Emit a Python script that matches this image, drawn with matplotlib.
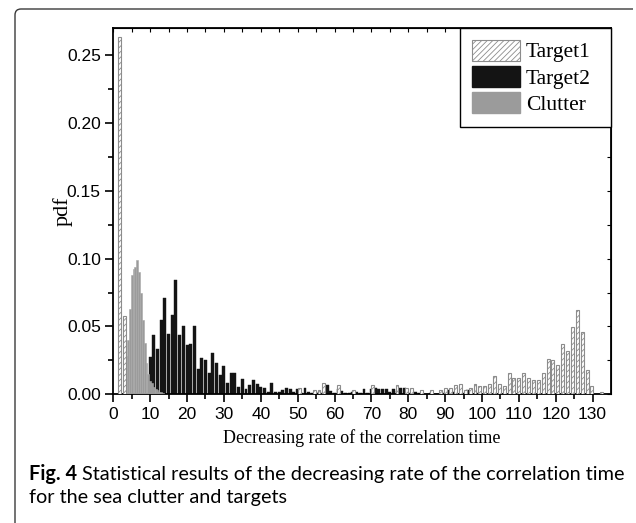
import numpy as np
import matplotlib
matplotlib.use("Agg")
import matplotlib.pyplot as plt
from matplotlib.path import Path
from matplotlib.patches import PathPatch, Patch

# ---------------- data ----------------
# Target1: 100 bins of width ~1.322 starting at ~1.6
t1_start = 1.6
t1_step = 1.322
target1 = [0.263, 0.058, 0, 0, 0, 0, 0, 0, 0, 0,
           0, 0, 0, 0, 0, 0, 0, 0, 0, 0,
           0, 0, 0, 0, 0, 0, 0, 0, 0, 0,
           0, 0, 0, 0, 0, 0, 0, 0.005, 0, 0,
           0.0035, 0.0035, 0.008, 0, 0, 0.0065, 0, 0, 0.0035, 0,
           0, 0, 0.0065, 0, 0, 0, 0, 0.0065, 0, 0.005,
           0.005, 0, 0.0035, 0, 0.0035, 0, 0.0034, 0.005, 0.005, 0.0066,
           0.0078, 0.0034, 0.005, 0.0078, 0.0064, 0.0064, 0.0078, 0.0137, 0.0078, 0.0064,
           0.0157, 0.0123, 0.0123, 0.0157, 0.0123, 0.0108, 0.0108, 0.0157, 0.0262, 0.025,
           0.0218, 0.0373, 0.0316, 0.0495, 0.0623, 0.0456, 0.0176, 0.0064, 0, 0.0015]

# Target2: unit-width bins starting at 10
t2_start = 10
target2 = [0.0272, 0.0434, 0.0336, 0.0551, 0.0713, 0.0444, 0.0581, 0.0846, 0.0436, 0.0502,
           0.0365, 0.037, 0.0502, 0.019, 0.0267, 0.0252, 0.0154, 0.0301, 0.0233, 0.014,
           0.0208, 0.0086, 0.0154, 0.0154, 0.0056, 0.0115, 0.0037, 0.0071, 0.0105, 0.0076,
           0.0056, 0.0047, 0.0017, 0.0086, 0.0017, 0.002, 0.003, 0.0044, 0.0037, 0.0017,
           0.0037, 0.001, 0.0044, 0.0017, 0.001, 0.001, 0.0017, 0.001, 0.0066, 0.0025,
           0.001, 0.0037, 0.0025, 0.001, 0.001, 0.0017, 0.0017, 0.0012, 0.0037, 0.0012,
           0.0037, 0.0047, 0.0037, 0.0037, 0.0037, 0.0017, 0.0037, 0.0025, 0.005, 0.005,
           0.001, 0.0012, 0.0017, 0.001, 0.001, 0.0005, 0.001, 0, 0.0005, 0.001,
           0.002, 0.003, 0.0015, 0.001, 0.0005, 0.001, 0.003, 0.0015, 0.0005, 0.001,
           0, 0.0005, 0, 0, 0, 0, 0.001]

# Clutter: half-unit bins starting at 3.0
cl_start = 3.0
cl_step = 0.5
clutter = [0.012, 0.028, 0.040, 0.063, 0.088, 0.092, 0.094, 0.099, 0.090, 0.075,
           0.055, 0.038, 0.023, 0.015, 0.010, 0.008, 0.0056, 0.004, 0.003, 0.002,
           0.0015, 0.001]

labels = ["Target1", "Target2", "Clutter"]
x_ticks = list(range(0, 131, 10))
y_ticks = [0.00, 0.05, 0.10, 0.15, 0.20, 0.25]

# ---------------- figure ----------------
W, H = 636, 523
fig = plt.figure(figsize=(W / 100, H / 100), dpi=100)
AX_L, AX_R, AX_T, AX_B = 113.3, 611, 28, 394.3
ax = fig.add_axes([AX_L / W, 1 - AX_B / H, (AX_R - AX_L) / W, (AX_B - AX_T) / H])

plt.rcParams['hatch.linewidth'] = 0.6

x2 = t2_start + np.arange(len(target2))
ax.bar(x2, target2, width=0.8, color="#141414", edgecolor="#141414", linewidth=0.3, zorder=2)

xc = cl_start + cl_step * np.arange(len(clutter))
ax.bar(xc, clutter, width=cl_step, color="#9b9b9b", edgecolor="#a8a8a8", linewidth=0.4, zorder=3)

x1 = t1_start + t1_step * np.arange(len(target1))
mask = np.array(target1) > 0
ax.bar(x1[mask], np.array(target1)[mask], width=0.8, color="white", edgecolor="#8c8c8c",
       linewidth=0.8, hatch="//////", zorder=4)

ax.set_xlim(0, 135)
ax.set_ylim(0, 0.27)
ax.set_xticks(x_ticks)
ax.set_xticks(np.arange(5, 135, 10), minor=True)
ax.set_yticks(y_ticks)
ax.set_yticks(np.arange(0.025, 0.27, 0.05), minor=True)
ax.set_xticklabels([str(t) for t in x_ticks])
ax.set_yticklabels([f"{t:.2f}" for t in y_ticks])

for lab in ax.get_xticklabels() + ax.get_yticklabels():
    lab.set_fontfamily("Liberation Sans")
    lab.set_fontsize(12.5)

ax.tick_params(which="major", direction="out", length=6, width=1.2, top=False, right=False, pad=3)
ax.tick_params(which="minor", direction="out", length=3.5, width=1.2, top=False, right=False)
for s in ax.spines.values():
    s.set_linewidth(1.3)

# inner ticks on top and right
axt = ax.secondary_xaxis("top")
axt.set_xticks(x_ticks)
axt.set_xticks(np.arange(5, 135, 10), minor=True)
axt.tick_params(which="both", direction="in", length=3, width=0.8, labeltop=False)
axr = ax.secondary_yaxis("right")
axr.set_yticks(y_ticks)
axr.set_yticks(np.arange(0.025, 0.27, 0.05), minor=True)
axr.tick_params(which="both", direction="in", length=3, width=0.8, labelright=False)

ax.set_xlabel("Decreasing rate of the correlation time", fontfamily="Liberation Serif",
              fontsize=13, labelpad=5)
ax.set_ylabel("pdf", fontfamily="Liberation Serif", fontsize=16, labelpad=-4)

handles = [Patch(facecolor="white", edgecolor="#8c8c8c", hatch="//////", linewidth=0.8),
           Patch(facecolor="#141414", edgecolor="#141414"),
           Patch(facecolor="#9b9b9b", edgecolor="#9b9b9b")]
leg_x0 = (460 - AX_L) / (AX_R - AX_L)
leg = ax.legend(handles, labels, loc="upper left", bbox_to_anchor=(leg_x0, 0, 1 - leg_x0, 1),
                mode="expand", borderaxespad=0, fancybox=False,
                edgecolor="black", framealpha=1, handlelength=2.25, handleheight=1.1,
                labelspacing=0.17, handletextpad=0.25, borderpad=0.55,
                prop={"family": "Liberation Serif", "size": 15.5})
leg.get_frame().set_linewidth(1.0)

# ---------------- outer frame ----------------
def fx(px):
    return px / W

def fy(py):
    return 1 - py / H

verts = [(fx(15), fy(523)), (fx(15), fy(15)), (fx(15), fy(9)), (fx(21), fy(9)), (fx(633), fy(9))]
codes = [Path.MOVETO, Path.LINETO, Path.CURVE3, Path.CURVE3, Path.LINETO]
fig.patches.append(PathPatch(Path(verts, codes), transform=fig.transFigure, fill=False,
                             edgecolor="#3a3a3a", linewidth=1.0))

# ---------------- caption ----------------
cap_font = "Lato"
cap_fs = 14.5
renderer = fig.canvas.get_renderer()
t_bold = fig.text(fx(29), fy(480), "Fig. 4", fontfamily=cap_font, fontweight="bold",
                  fontsize=cap_fs, va="baseline", ha="left")
bb = t_bold.get_window_extent(renderer)
t_rest = fig.text((bb.x1 + 5) / W, fy(480),
                  "Statistical results of the decreasing rate of the correlation time",
                  fontfamily=cap_font, fontsize=cap_fs, va="baseline", ha="left")
bb2 = t_rest.get_window_extent(renderer)
scale = (625 - 29) / (bb2.x1 - 29)
cap_fs2 = cap_fs * scale
t_bold.set_fontsize(cap_fs2)
bb = t_bold.get_window_extent(renderer)
t_rest.set_fontsize(cap_fs2)
t_rest.set_x((bb.x1 + 5) / W)
fig.text(fx(29), fy(503), "for the sea clutter and targets", fontfamily=cap_font,
         fontsize=cap_fs2, va="baseline", ha="left")

fig.savefig("out.png", dpi=100)
